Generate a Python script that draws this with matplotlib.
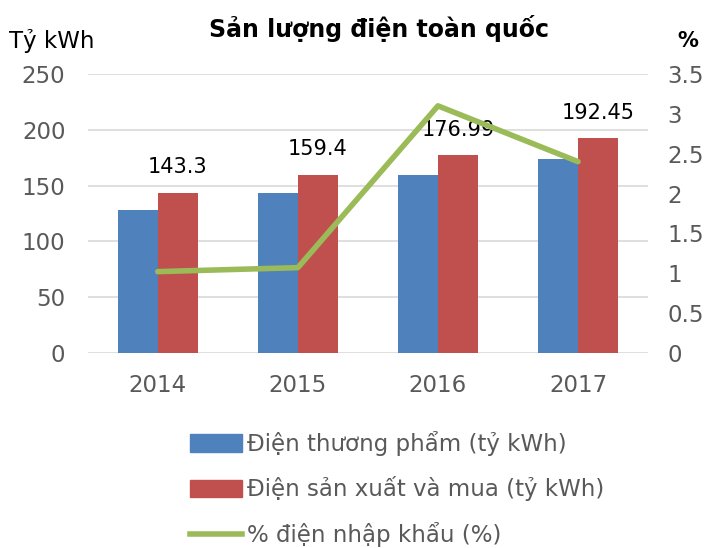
import matplotlib.pyplot as plt
import numpy as np
from matplotlib.patches import Patch
from matplotlib.lines import Line2D

years = ['2014', '2015', '2016', '2017']
thuong_pham = [128.4, 143.5, 159.2, 174.0]
san_xuat = [143.3, 159.4, 176.99, 192.45]
nhap_khau = [1.02, 1.07, 3.1, 2.4]

blue = '#4f81bd'
red = '#c0504d'
green = '#9bbb59'
gray = '#595959'

plt.rcParams['font.family'] = ['DejaVu Sans']

fig = plt.figure(figsize=(7.13, 5.48), dpi=100)
ax = fig.add_axes([0.123, 0.356, 0.786, 0.509])
x = np.arange(len(years))
w = 0.285

ax.bar(x - w/2, thuong_pham, w, color=blue, zorder=2)
ax.bar(x + w/2, san_xuat, w, color=red, zorder=2)
for xi, v in zip(x, san_xuat):
    ax.text(xi + w/2, v + 14, f'{v:g}', ha='center', va='bottom', fontsize=15, color='black', zorder=5)

ax.set_xlim(-0.5, 3.5)
ax.set_ylim(0, 250)
ax.set_yticks(range(0, 251, 50))
ax.set_xticks(x)
ax.set_xticklabels(years)
ax.grid(axis='y', color='#d9d9d9', linewidth=1.2, zorder=0)
ax.tick_params(axis='y', length=0, labelsize=16.5, colors=gray, pad=16)
ax.tick_params(axis='x', length=0, labelsize=16.5, colors=gray, pad=15)
for s in ax.spines.values():
    s.set_visible(False)

ax2 = ax.twinx()
ax2.plot(x, nhap_khau, color=green, linewidth=4, zorder=3, solid_capstyle='round')
ax2.set_ylim(0, 3.5)
ax2.set_yticks(np.arange(0, 3.51, 0.5))
ax2.set_yticklabels(['0', '0.5', '1', '1.5', '2', '2.5', '3', '3.5'])
ax2.tick_params(length=0, labelsize=16.5, colors=gray, pad=14)
for s in ax2.spines.values():
    s.set_visible(False)

fig.text(0.013, 0.925, 'Tỷ kWh', fontsize=16.5, color='black', va='center')
fig.text(0.532, 0.948, 'Sản lượng điện toàn quốc', fontsize=17, fontweight='bold', ha='center', va='center')
fig.text(0.965, 0.925, '%', fontsize=15, fontweight='bold', ha='center', va='center')

handles = [Patch(color=blue), Patch(color=red), Line2D([0], [0], color=green, linewidth=4)]
labels = ['Điện thương phẩm (tỷ kWh)', 'Điện sản xuất và mua (tỷ kWh)', '% điện nhập khẩu (%)']
leg = fig.legend(handles, labels, loc='lower left', bbox_to_anchor=(0.238, -0.036), frameon=False,
                 fontsize=16.5, labelcolor=gray, handlelength=2.27, handleheight=0.8,
                 handletextpad=0.2, labelspacing=0.9)

fig.savefig('out.png', dpi=100)
